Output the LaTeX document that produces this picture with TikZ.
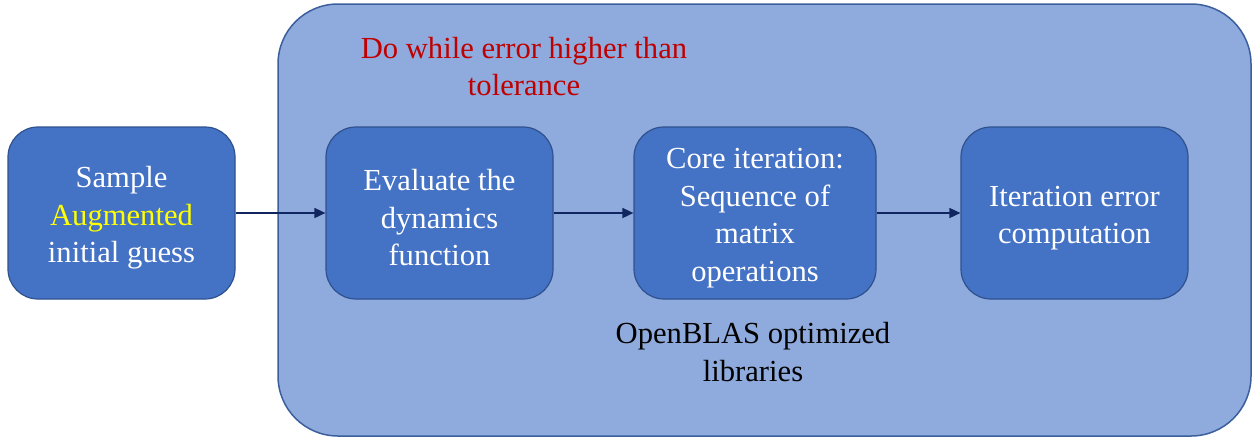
\documentclass[tikz,border=0pt]{standalone}
\usepackage{fontspec}
\setmainfont{Liberation Serif}
\usetikzlibrary{arrows.meta}
\definecolor{outerfill}{HTML}{8FAADC}
\definecolor{outerdraw}{HTML}{3A5F9C}
\definecolor{boxfill}{HTML}{4472C4}
\definecolor{boxdraw}{HTML}{2F528F}
\definecolor{arrowcol}{HTML}{0F2660}
\definecolor{redtext}{HTML}{C00000}
\definecolor{yel}{HTML}{FFFF00}
\begin{document}
\begin{tikzpicture}[x=1pt,y=-1pt,
  stepbox/.style={draw=boxdraw,line width=1.2pt,fill=boxfill,rounded corners=30pt,
    minimum height=172pt,inner sep=0pt},
  label/.style={align=center,inner sep=0pt,font=\fontsize{30.6}{37.5}\selectfont},
  boxtext/.style={label,text=white},
  conn/.style={draw=arrowcol,line width=1.6pt,-{Triangle[length=11pt,width=10pt]}}]
\useasboundingbox (0,0) rectangle (1253,440);
\node[draw=outerdraw,line width=1.5pt,fill=outerfill,rounded corners=60pt,
  minimum width=973pt,minimum height=432pt,inner sep=0pt] (outer) at (764.5,220) {};
\node[stepbox,minimum width=227pt] (a) at (121.5,213) {};
\node[stepbox,minimum width=227pt] (b) at (439.5,213) {};
\node[stepbox,minimum width=242pt] (c) at (755,213) {};
\node[stepbox,minimum width=227pt] (d) at (1074.5,213) {};
\node[boxtext] (at) at ([yshift=-5pt]a.center) {Sample\\\textcolor{yel}{Augmented}\\initial guess};
\node[boxtext] (bt) at ([yshift=-5pt]b.center) {Evaluate the\\dynamics\\function};
\node[boxtext] (ct) at ([yshift=-5pt]c.center) {Core iteration:\\Sequence of\\matrix\\operations};
\node[boxtext] (dt) at ([yshift=-5pt]d.center) {Iteration error\\computation};
\node[label,text=redtext] (t) at (524,66.5) {Do while error higher than\\tolerance};
\node[label,text=black] (o) at (753,352) {OpenBLAS optimized\\libraries};
\draw[conn] (a) -- (b);
\draw[conn] (b) -- (c);
\draw[conn] (c) -- (d);
\end{tikzpicture}
\end{document}
